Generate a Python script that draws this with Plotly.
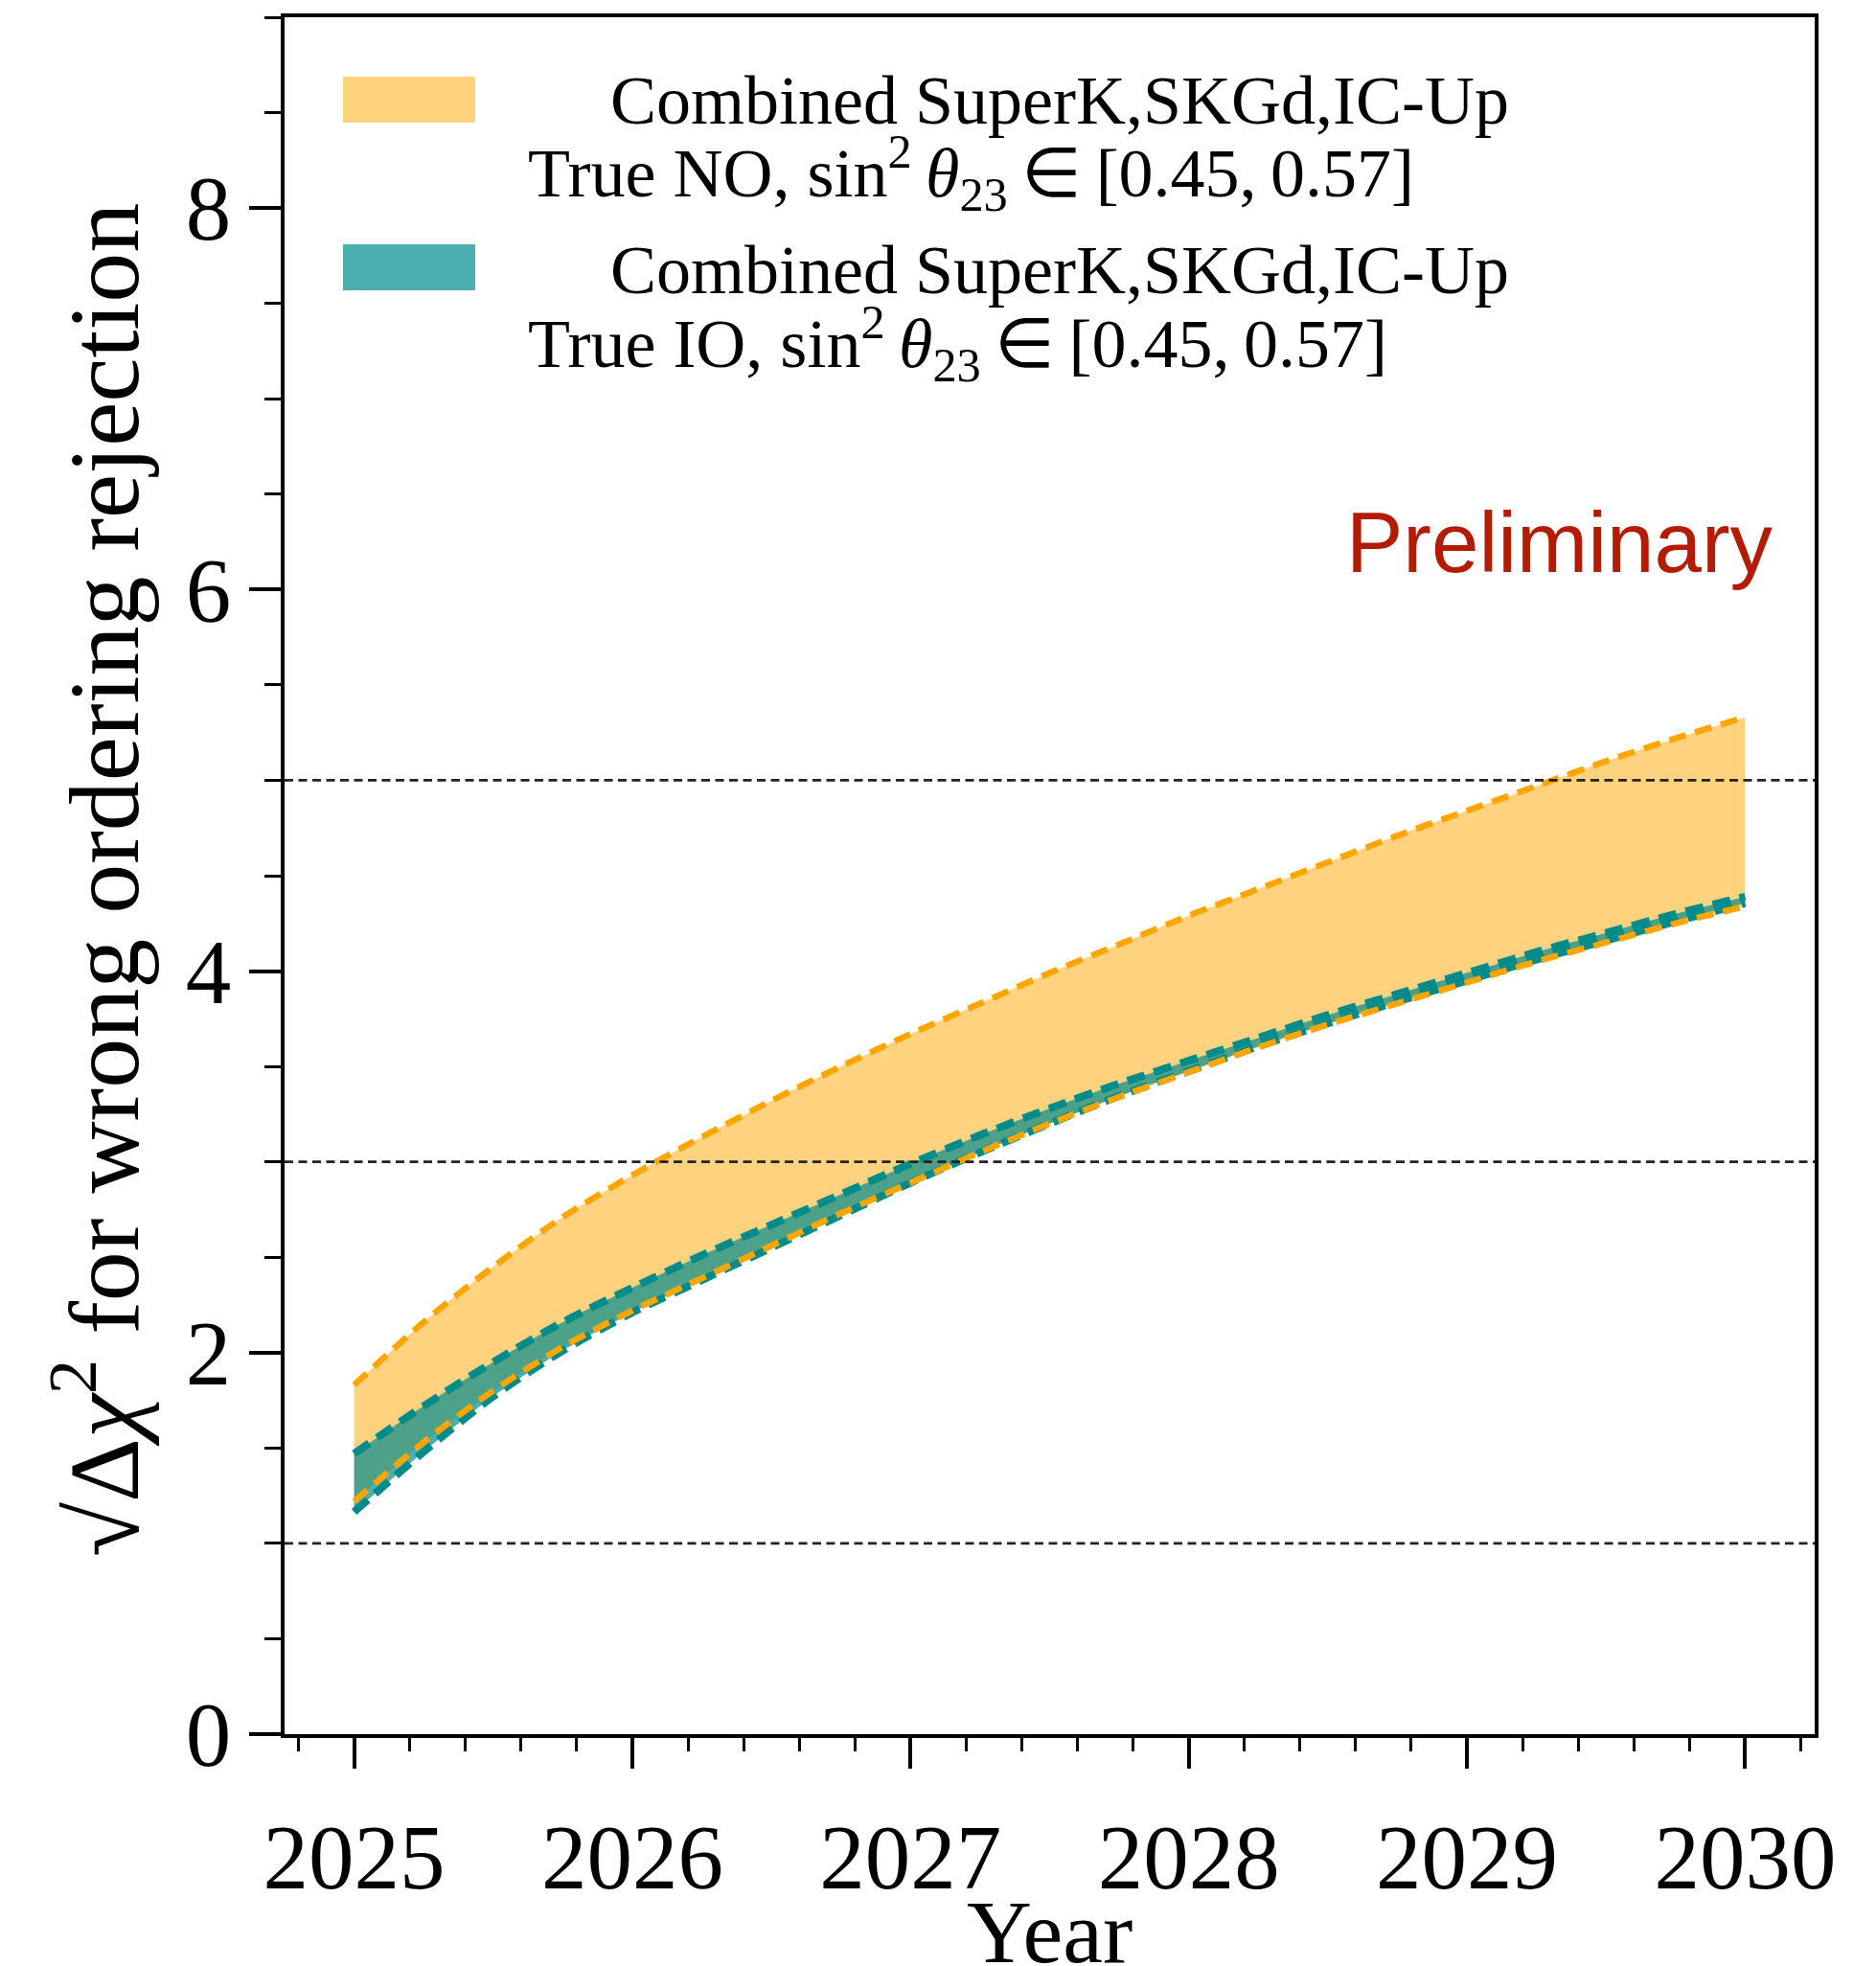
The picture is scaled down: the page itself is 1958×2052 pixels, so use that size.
import plotly.graph_objects as go

# ---------------- data ----------------
years = [2025.00, 2025.25, 2025.50, 2025.75, 2026.00, 2026.25, 2026.50, 2026.75,
         2027.00, 2027.25, 2027.50, 2027.75, 2028.00, 2028.25, 2028.50, 2028.75,
         2029.00, 2029.25, 2029.50, 2029.75, 2030.00]

no_upper = [1.83, 2.16, 2.45, 2.71, 2.93, 3.13, 3.32, 3.50,
            3.67, 3.83, 3.99, 4.14, 4.29, 4.43, 4.57, 4.71,
            4.84, 4.97, 5.10, 5.22, 5.33]
no_lower = [1.22, 1.53, 1.80, 2.03, 2.22, 2.39, 2.56, 2.73,
            2.89, 3.05, 3.20, 3.34, 3.47, 3.60, 3.72, 3.83,
            3.94, 4.05, 4.15, 4.25, 4.34]
io_upper = [1.47, 1.72, 1.95, 2.16, 2.34, 2.51, 2.67, 2.83,
            2.99, 3.14, 3.28, 3.41, 3.53, 3.65, 3.77, 3.88,
            3.99, 4.10, 4.20, 4.30, 4.39]
io_lower = [1.165, 1.48, 1.77, 2.01, 2.21, 2.38, 2.55, 2.72,
            2.89, 3.05, 3.20, 3.345, 3.475, 3.605, 3.725, 3.84,
            3.95, 4.06, 4.16, 4.26, 4.355]

sigma_levels = [1, 3, 5]

x_tick_vals = [2025, 2026, 2027, 2028, 2029, 2030]
x_tick_text = ["2025", "2026", "2027", "2028", "2029", "2030"]
y_tick_vals = [0, 2, 4, 6, 8]
y_tick_text = ["0", "2", "4", "6", "8"]

TS = "\u2009"  # thin space
legend_line1 = "Combined SuperK,SKGd,IC-Up"
legend_no = ("True NO, sin<sup>2</sup>" + TS + "<i>θ</i><sub>23</sub>" + TS + "∈" + TS
             + "[0.45," + TS + "0.57]")
legend_io = ("True IO, sin<sup>2</sup>" + TS + "<i>θ</i><sub>23</sub>" + TS + "∈" + TS
             + "[0.45," + TS + "0.57]")

# ---------------- styles ----------------
ORANGE = "#FFA500"
TEAL = "#008B8B"
ORANGE_FILL = "rgba(255,165,0,0.5)"
TEAL_FILL = "rgba(0,139,139,0.7)"
SERIF = "Liberation Serif"

W, H = 1958, 2052
L, R, T, B = 297, 64, 18, 242
PW, PH = W - L - R, H - T - B


def px_x(px):
    return (px - L) / PW


def px_y(py):
    return (H - B - py) / PH


fig = go.Figure()

SH = "spline"
SM = 0.8

# fills
fig.add_trace(go.Scatter(x=years, y=no_lower, mode="lines",
                         line=dict(width=0, color=ORANGE, shape=SH, smoothing=SM),
                         showlegend=False, hoverinfo="skip"))
fig.add_trace(go.Scatter(x=years, y=no_upper, mode="lines",
                         line=dict(width=0, color=ORANGE, shape=SH, smoothing=SM),
                         fill="tonexty", fillcolor=ORANGE_FILL, showlegend=False, hoverinfo="skip"))
fig.add_trace(go.Scatter(x=years, y=io_lower, mode="lines",
                         line=dict(width=0, color=TEAL, shape=SH, smoothing=SM),
                         showlegend=False, hoverinfo="skip"))
fig.add_trace(go.Scatter(x=years, y=io_upper, mode="lines",
                         line=dict(width=0, color=TEAL, shape=SH, smoothing=SM),
                         fill="tonexty", fillcolor=TEAL_FILL, showlegend=False, hoverinfo="skip"))

# dashed edges
for ys in (io_upper, io_lower):
    fig.add_trace(go.Scatter(x=years, y=ys, mode="lines",
                             line=dict(width=8, color=TEAL, dash="19px,10px",
                                       shape=SH, smoothing=SM),
                             showlegend=False))
for ys in (no_upper, no_lower):
    fig.add_trace(go.Scatter(x=years, y=ys, mode="lines",
                             line=dict(width=6.5, color=ORANGE, dash="18px,10px",
                                       shape=SH, smoothing=SM),
                             showlegend=False))

# significance lines
for lvl in sigma_levels:
    fig.add_shape(type="line", xref="paper", yref="y", x0=0, x1=1, y0=lvl, y1=lvl,
                  line=dict(color="#222222", width=2.8, dash="9px,5.5px"), layer="above")

# manual legend
patches = [(80, 128, ORANGE_FILL), (255, 303, TEAL_FILL)]
for y0, y1, col in patches:
    fig.add_shape(type="rect", xref="paper", yref="paper",
                  x0=px_x(358), x1=px_x(496), y0=px_y(y1), y1=px_y(y0),
                  fillcolor=col, line=dict(width=0), layer="above")

leg_font = dict(family=SERIF, size=72, color="black")
for txt, xp, yp in [(legend_line1, 636, 105), (legend_no, 550, 181),
                    (legend_line1, 636, 282), (legend_io, 550, 358)]:
    fig.add_annotation(text=txt, xref="paper", yref="paper", x=px_x(xp), y=px_y(yp),
                       xanchor="left", yanchor="middle", showarrow=False, font=leg_font,
                       borderpad=0)

# Preliminary
fig.add_annotation(text="Preliminary", xref="paper", yref="paper", x=px_x(1628), y=px_y(566),
                   xanchor="center", yanchor="middle", showarrow=False,
                   font=dict(family="Liberation Sans", size=89, color="#B31B02"))

# axis titles
fig.add_annotation(text="√Δ<i>χ</i><sup>2</sup> for wrong ordering rejection",
                   xref="paper", yref="paper", x=px_x(100), y=px_y(919), textangle=-90,
                   xanchor="center", yanchor="middle", showarrow=False,
                   font=dict(family=SERIF, size=104, color="black"))
fig.add_annotation(text="Year", xref="paper", yref="paper", x=0.5, y=px_y(2016),
                   xanchor="center", yanchor="middle", showarrow=False,
                   font=dict(family=SERIF, size=94, color="black"))

fig.update_xaxes(range=[2024.75, 2030.25], tickvals=x_tick_vals, ticktext=x_tick_text,
                 ticks="outside", ticklen=32, tickwidth=3.5, tickcolor="black",
                 ticklabelstandoff=11,
                 showline=True, linewidth=3.5, linecolor="black", mirror=True,
                 showgrid=False, zeroline=False,
                 tickfont=dict(family=SERIF, size=95, color="black"),
                 minor=dict(ticks="outside", ticklen=14, tickwidth=3, tickcolor="black",
                            dtick=0.2, tick0=2025, showgrid=False))
fig.update_yaxes(range=[0, 9], tickvals=y_tick_vals, ticktext=y_tick_text,
                 ticks="outside", ticklen=33, tickwidth=3.5, tickcolor="black",
                 showline=True, linewidth=3.5, linecolor="black", mirror=True,
                 showgrid=False, zeroline=False,
                 tickfont=dict(family=SERIF, size=95, color="black"),
                 minor=dict(ticks="outside", ticklen=17, tickwidth=3, tickcolor="black",
                            dtick=0.5, tick0=0, showgrid=False))

fig.update_layout(width=W, height=H, margin=dict(l=L, r=R, t=T, b=B, autoexpand=False),
                  plot_bgcolor="white", paper_bgcolor="white", showlegend=False)

fig.write_html("out.html")
